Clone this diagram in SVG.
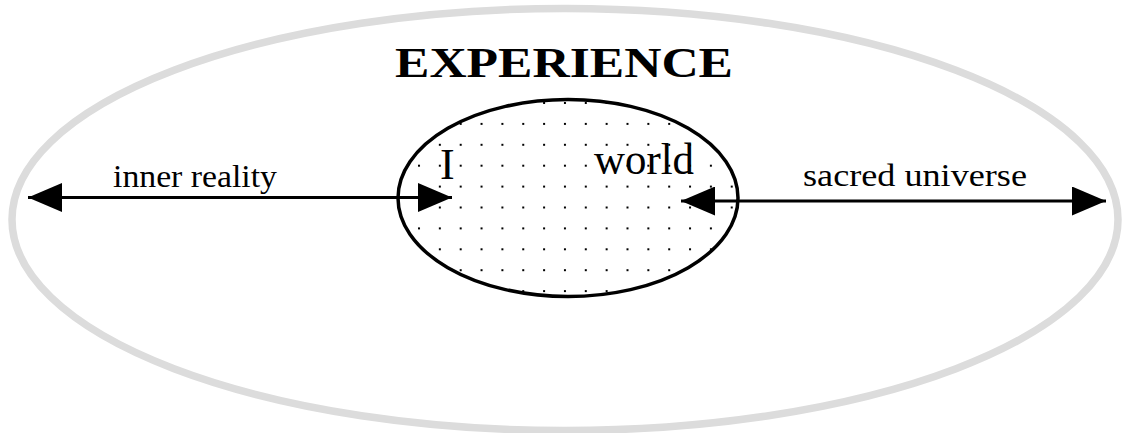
<svg xmlns="http://www.w3.org/2000/svg" width="1125" height="433" viewBox="0 0 1125 433">
  <defs>
    <pattern id="dots" x="418" y="102" width="20.85" height="20.9" patternUnits="userSpaceOnUse">
      <rect x="0" y="0" width="2" height="2" fill="#000"/>
    </pattern>
    <marker id="ah" viewBox="0 0 34 29" refX="34" refY="14.5" markerWidth="34" markerHeight="29" markerUnits="userSpaceOnUse" orient="auto-start-reverse">
      <path d="M0,0 L34,14.5 L0,29 Z" fill="#000"/>
    </marker>
    <style>
      .lbl { font-family: "Liberation Serif", "Times New Roman", serif; fill: #000; }
      .edge { stroke: #000; stroke-width: 3; fill: none; }
    </style>
  </defs>
  <rect width="1125" height="433" fill="#fff"/>
  <g id="experience">
    <ellipse cx="565" cy="219.5" rx="553" ry="211" fill="none" stroke="#dcdcdc" stroke-width="7.5"/>
    <text class="lbl" x="395" y="77" font-size="42" font-weight="bold" textLength="338" lengthAdjust="spacingAndGlyphs">EXPERIENCE</text>
  </g>
  <g id="self-world">
    <ellipse cx="568" cy="198" rx="170" ry="98.5" fill="#fff"/>
    <ellipse cx="568" cy="198" rx="170" ry="98.5" fill="url(#dots)" stroke="#000" stroke-width="3.5"/>
    <text class="lbl" x="440" y="179" font-size="44">I</text>
    <text class="lbl" x="594" y="174" font-size="44" textLength="100" lengthAdjust="spacingAndGlyphs">world</text>
  </g>
  <g id="connectors">
    <line class="edge" x1="28" y1="197.5" x2="452" y2="197.5" marker-start="url(#ah)" marker-end="url(#ah)"/>
    <line class="edge" x1="681" y1="201" x2="1106" y2="201" marker-start="url(#ah)" marker-end="url(#ah)"/>
    <text class="lbl" x="113" y="187" font-size="32" textLength="164" lengthAdjust="spacingAndGlyphs">inner reality</text>
    <text class="lbl" x="803" y="186" font-size="31" textLength="224" lengthAdjust="spacingAndGlyphs">sacred universe</text>
  </g>
</svg>
